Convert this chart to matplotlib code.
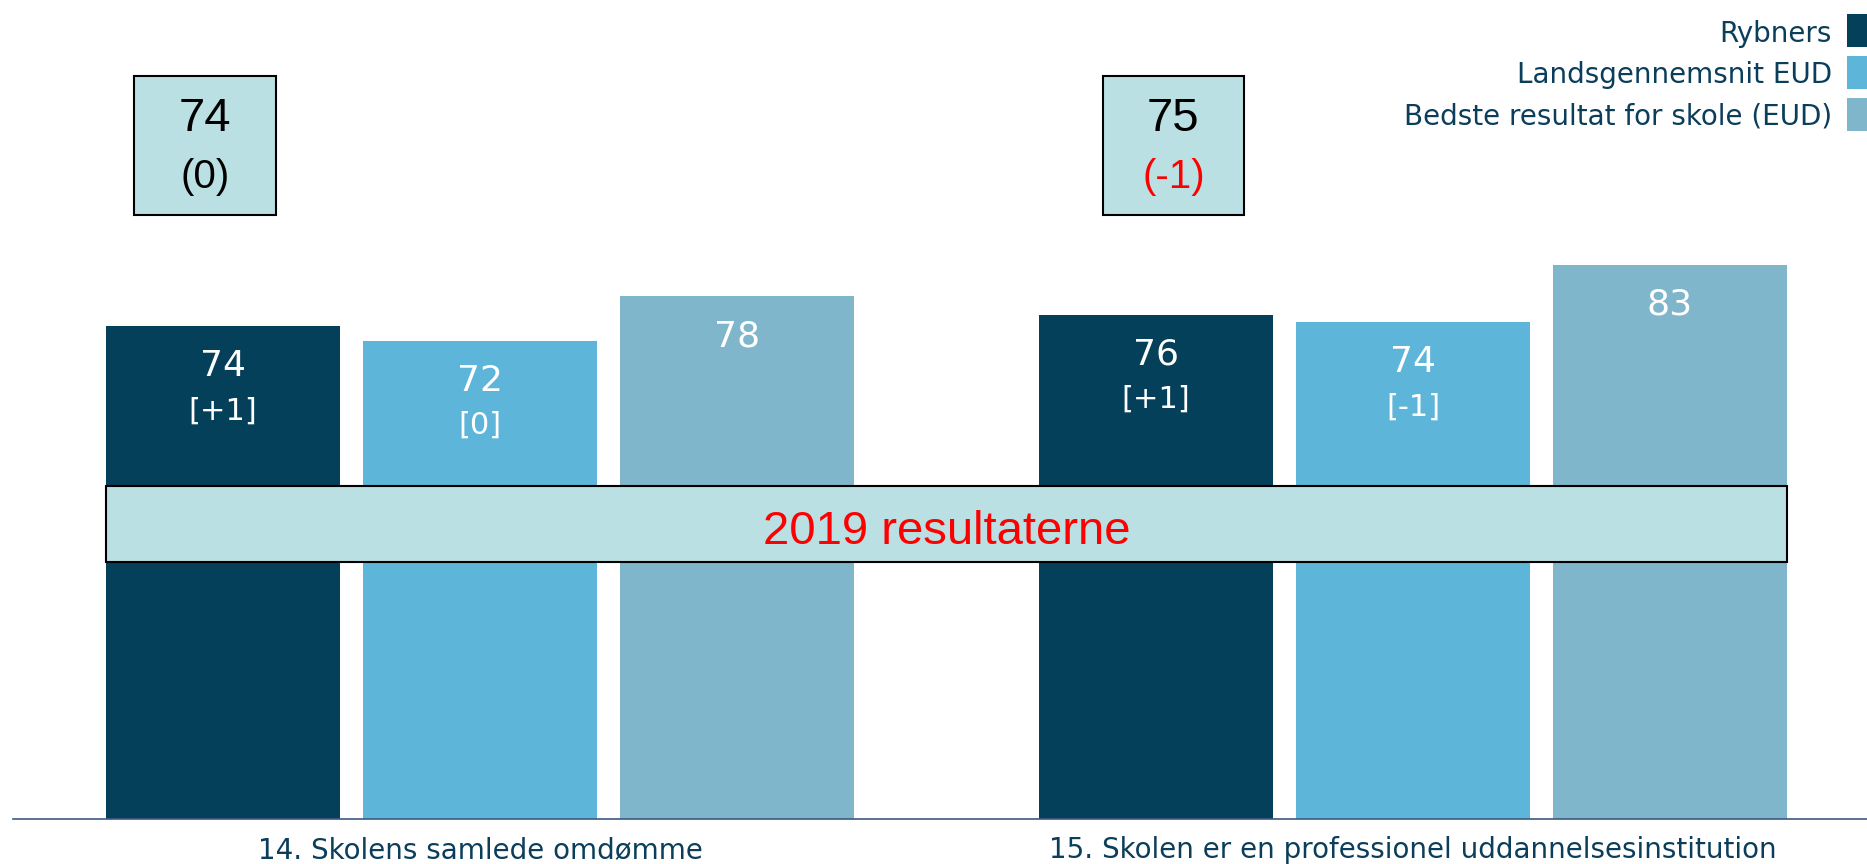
import matplotlib
matplotlib.use("Agg")
import matplotlib.pyplot as plt
from matplotlib.patches import Rectangle
import numpy as np

# ---- data ----
categories = ["14. Skolens samlede omdømme",
              "15. Skolen er en professionel uddannelsesinstitution"]
series = ["Rybners", "Landsgennemsnit EUD", "Bedste resultat for skole (EUD)"]
rybners = [73.9, 75.6]
landsgennemsnit = [71.7, 74.5]
bedste = [78.4, 83.1]
rybners_labels = ["74", "76"]
landsgennemsnit_labels = ["72", "74"]
bedste_labels = ["78", "83"]
rybners_delta = ["[+1]", "[+1]"]
landsgennemsnit_delta = ["[0]", "[-1]"]
box_values = ["74", "75"]
box_deltas = ["(0)", "(-1)"]
banner_text = "2019 resultaterne"

# ---- style ----
colors = ["#04405A", "#5EB5DA", "#7FB6CB"]
text_dark = "#0B3E5A"
box_face = "#BAE0E3"
box_delta_colors = ["black", "#FF0000"]

W, H = 1867, 864
fig = plt.figure(figsize=(W / 100, H / 100), dpi=100)
ax = fig.add_axes([13 / W, 45 / H, 1 - 13 / W, 819 / H])
ax.set_xlim(-0.5005, 1.4866)
ax.set_ylim(0, 122.8)

x = np.arange(len(categories))
offset = 0.2752
width = 0.2513
vals = [rybners, landsgennemsnit, bedste]
labs = [rybners_labels, landsgennemsnit_labels, bedste_labels]
deltas = [rybners_delta, landsgennemsnit_delta, None]
for i, (v, lab, dl) in enumerate(zip(vals, labs, deltas)):
    xs = x + (i - 1) * offset
    ax.bar(xs, v, width=width, color=colors[i], zorder=2)
    for j in range(len(xs)):
        ax.text(xs[j], v[j] - 6.0, lab[j], ha="center", va="center",
                color="white", fontsize=26, family="DejaVu Sans", zorder=3)
        if dl is not None:
            ax.text(xs[j], v[j] - 12.7, dl[j], ha="center", va="center",
                    color="white", fontsize=22, family="DejaVu Sans", zorder=3)

# banner
ax.add_patch(Rectangle((-0.4009, 38.58), 1.8018, 11.35, facecolor=box_face,
                       edgecolor="black", linewidth=1.5, zorder=5))
ax.text(0.5, 43.0, banner_text, ha="center", va="center", color="#FF0000",
        fontsize=34, family="Liberation Sans", zorder=6)

# boxes
box_x = [-0.3703, 0.6674]
box_w = 0.1515
for k in range(len(box_values)):
    ax.add_patch(Rectangle((box_x[k], 90.55), box_w, 20.85, facecolor=box_face,
                           edgecolor="black", linewidth=1.5, zorder=5, clip_on=False))
    cx = box_x[k] + box_w / 2
    ax.text(cx, 104.9, box_values[k], ha="center", va="center", color="black",
            fontsize=34, family="Liberation Sans", zorder=6)
    ax.text(cx, 96.3, box_deltas[k], ha="center", va="center",
            color=box_delta_colors[k], fontsize=29, family="Liberation Sans", zorder=6)

# axes styling
for s in ["top", "right", "left"]:
    ax.spines[s].set_visible(False)
ax.spines["bottom"].set_color("#3D5A80")
ax.spines["bottom"].set_linewidth(1.2)
ax.set_yticks([])
ax.set_xticks(x)
ax.set_xticklabels(categories, fontsize=20, color=text_dark, family="DejaVu Sans")
ax.tick_params(axis="x", length=0, pad=12)

# legend (manual, right aligned)
baselines = [42, 83, 124]
sq_tops = [14, 56, 98]
for i, name in enumerate(series):
    fig.text(1832 / W, 1 - baselines[i] / H, name, ha="right", va="baseline",
             color=text_dark, fontsize=20, family="DejaVu Sans")
    fig.patches.append(Rectangle((1847 / W, 1 - (sq_tops[i] + 33) / H), 30 / W, 33 / H,
                                 transform=fig.transFigure, facecolor=colors[i],
                                 edgecolor="none", figure=fig))

fig.savefig("out.png", dpi=100)
